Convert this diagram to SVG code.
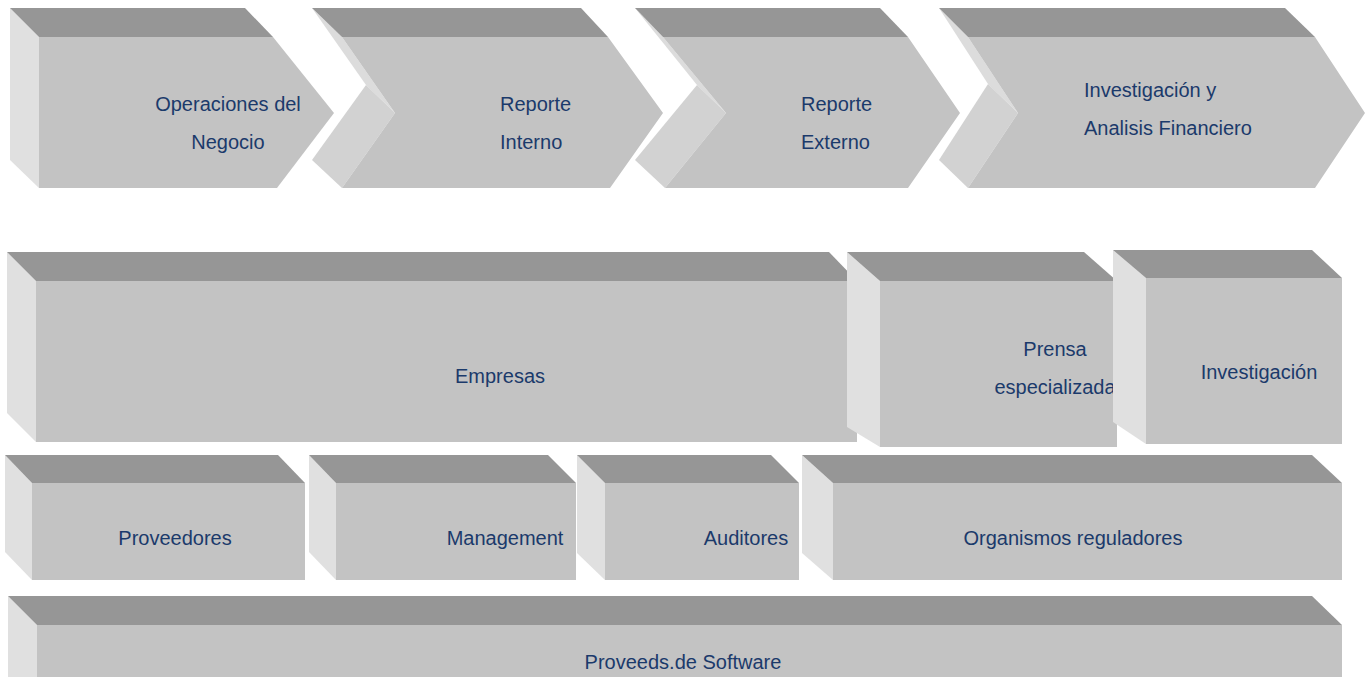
<svg xmlns="http://www.w3.org/2000/svg" width="1369" height="677" viewBox="0 0 1369 677">
<style>
.top{fill:#969696}
.front{fill:#c3c3c3}
.side{fill:#e0e0e0}
.sideu{fill:#dcdcdc}
.sidel{fill:#d2d2d2}
text{font-family:"Liberation Sans",Arial,sans-serif;font-size:20px;fill:#1b3a6b}
.c{text-anchor:middle}
</style>
<rect width="1369" height="677" fill="#ffffff"/>
<g id="chev1">
<polygon class="side" points="10,8 39,37 39,188 10,160"/>
<polygon class="top" points="10,8 245,8 273,37 39,37"/>
<polygon class="front" points="39,37 273,37 334,113 277,188 39,188"/>
<text class="c" x="228" y="111">Operaciones del</text>
<text class="c" x="228" y="149">Negocio</text>
</g>
<g id="chev2">
<polygon class="sideu" points="312,8 342,37 395,113 366,85"/>
<polygon class="sidel" points="366,85 395,113 342,188 312,160"/>
<polygon class="top" points="312,8 581,8 608,37 342,37"/>
<polygon class="front" points="342,37 608,37 663,113 610,188 342,188 395,113"/>
<text x="500" y="111">Reporte</text>
<text x="500" y="149">Interno</text>
</g>
<g id="chev3">
<polygon class="sideu" points="635,8 663,37 726,113 697,85"/>
<polygon class="sidel" points="697,85 726,113 665,188 635,160"/>
<polygon class="top" points="635,8 880,8 908,37 663,37"/>
<polygon class="front" points="663,37 908,37 960,113 908,188 665,188 726,113"/>
<text x="801" y="111">Reporte</text>
<text x="801" y="149">Externo</text>
</g>
<g id="chev4">
<polygon class="sideu" points="939,8 968,37 1018,113 988,84"/>
<polygon class="sidel" points="988,84 1018,113 968,188 939,160"/>
<polygon class="top" points="939,8 1285,8 1315,37 968,37"/>
<polygon class="front" points="968,37 1315,37 1365,113 1315,188 968,188 1018,113"/>
<text x="1084" y="97">Investigación y</text>
<text x="1084" y="135">Analisis Financiero</text>
</g>
<g id="empresas">
<polygon class="side" points="7,252 36,281 36,442 7,413"/>
<polygon class="top" points="7,252 829,252 857,281 36,281"/>
<rect class="front" x="36" y="281" width="821" height="161"/>
<text class="c" x="500" y="383">Empresas</text>
</g>
<g id="prensa">
<polygon class="side" points="847,252 880,281 880,447 847,427"/>
<polygon class="top" points="847,252 1084,252 1117,281 880,281"/>
<rect class="front" x="880" y="281" width="237" height="166"/>
<text class="c" x="1055" y="356">Prensa</text>
<text class="c" x="1055" y="394">especializada</text>
</g>
<g id="investigacion">
<polygon class="side" points="1113,250 1146,278 1146,444 1113,422"/>
<polygon class="top" points="1113,250 1312,250 1342,278 1146,278"/>
<rect class="front" x="1146" y="278" width="196" height="166"/>
<text class="c" x="1259" y="379">Investigación</text>
</g>
<g id="proveedores">
<polygon class="side" points="5,455 32,483 32,580 5,552"/>
<polygon class="top" points="5,455 278,455 305,483 32,483"/>
<rect class="front" x="32" y="483" width="273" height="97"/>
<text class="c" x="175" y="545">Proveedores</text>
</g>
<g id="management">
<polygon class="side" points="309,455 336,483 336,580 309,552"/>
<polygon class="top" points="309,455 548,455 576,483 336,483"/>
<rect class="front" x="336" y="483" width="240" height="97"/>
<text class="c" x="505" y="545">Management</text>
</g>
<g id="auditores">
<polygon class="side" points="577,455 605,483 605,580 577,553"/>
<polygon class="top" points="577,455 771,455 799,483 605,483"/>
<rect class="front" x="605" y="483" width="194" height="97"/>
<text class="c" x="746" y="545">Auditores</text>
</g>
<g id="organismos">
<polygon class="side" points="802,455 833,483 833,580 802,553"/>
<polygon class="top" points="802,455 1312,455 1342,483 833,483"/>
<rect class="front" x="833" y="483" width="509" height="97"/>
<text class="c" x="1073" y="545">Organismos reguladores</text>
</g>
<g id="software">
<polygon class="side" points="8,596 37,625 37,677 8,677"/>
<polygon class="top" points="8,596 1312,596 1342,625 37,625"/>
<rect class="front" x="37" y="625" width="1305" height="52"/>
<text class="c" x="683" y="669">Proveeds.de Software</text>
</g>
<g id="connectors"></g>
</svg>
